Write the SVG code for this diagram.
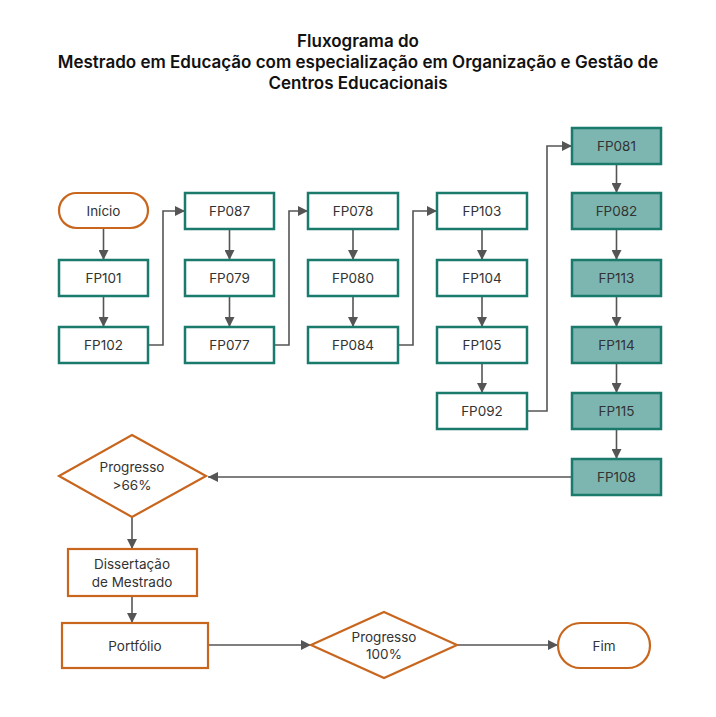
<svg xmlns="http://www.w3.org/2000/svg" width="716" height="717" viewBox="0 0 716 717">
<defs>
<marker id="ah" viewBox="0 0 10 10" refX="10" refY="5" markerWidth="10" markerHeight="10" markerUnits="userSpaceOnUse" orient="auto">
<path d="M0,0 L10,5 L0,10 z" fill="#555"/>
</marker>
</defs>
<style>
.t{font-family:Inter,"Noto Sans","Liberation Sans",sans-serif;font-size:13.5px;fill:#333;text-anchor:middle;dominant-baseline:central}
.title{font-family:Inter,"Noto Sans","Liberation Sans",sans-serif;font-size:17px;font-weight:600;fill:#111;text-anchor:middle}
.b{fill:#fff;stroke:#1a7a6c;stroke-width:2.5}
.f{fill:#7db6b1;stroke:#1a7a6c;stroke-width:2.5}
.o{fill:#fff;stroke:#c8661e;stroke-width:2.2}
.c{fill:none;stroke:#555;stroke-width:1.6;marker-end:url(#ah)}
</style>
<rect width="716" height="717" fill="#fff"/>
<g id="title">
<text class="title" x="358" y="47">Fluxograma do</text>
<text class="title" x="358" y="68">Mestrado em Educação com especialização em Organização e Gestão de</text>
<text class="title" x="358" y="89">Centros Educacionais</text>
</g>
<g id="connectors">
<path class="c" d="M103.5,228 V260"/>
<path class="c" d="M103.5,296 V327"/>
<path class="c" d="M148,345 H163 V211 H185"/>
<path class="c" d="M229.5,229 V260"/>
<path class="c" d="M229.5,296 V327"/>
<path class="c" d="M274,345 H289 V211 H308"/>
<path class="c" d="M353,229 V260"/>
<path class="c" d="M353,296 V327"/>
<path class="c" d="M398,345 H413 V211 H437"/>
<path class="c" d="M482,229 V260"/>
<path class="c" d="M482,296 V327"/>
<path class="c" d="M482,363 V393"/>
<path class="c" d="M527,411 H547 V146 H572"/>
<path class="c" d="M616.5,164 V193"/>
<path class="c" d="M616.5,229 V260"/>
<path class="c" d="M616.5,296 V327"/>
<path class="c" d="M616.5,363 V393"/>
<path class="c" d="M616.5,429 V459"/>
<path class="c" d="M572,477 H208"/>
<path class="c" d="M132,517 V549"/>
<path class="c" d="M132,596 V623"/>
<path class="c" d="M208,645 H311"/>
<path class="c" d="M457,645 H558"/>
</g>
<g id="inicio"><rect class="o" x="59" y="193" width="89" height="35" rx="17.5"/><text class="t" x="103.5" y="210.5">Início</text></g>
<g id="fp101"><rect class="b" x="59" y="260" width="89" height="36"/><text class="t" x="103.5" y="278">FP101</text></g>
<g id="fp102"><rect class="b" x="59" y="327" width="89" height="36"/><text class="t" x="103.5" y="345">FP102</text></g>
<g id="fp087"><rect class="b" x="185" y="193" width="89" height="36"/><text class="t" x="229.5" y="211">FP087</text></g>
<g id="fp079"><rect class="b" x="185" y="260" width="89" height="36"/><text class="t" x="229.5" y="278">FP079</text></g>
<g id="fp077"><rect class="b" x="185" y="327" width="89" height="36"/><text class="t" x="229.5" y="345">FP077</text></g>
<g id="fp078"><rect class="b" x="308" y="193" width="90" height="36"/><text class="t" x="353" y="211">FP078</text></g>
<g id="fp080"><rect class="b" x="308" y="260" width="90" height="36"/><text class="t" x="353" y="278">FP080</text></g>
<g id="fp084"><rect class="b" x="308" y="327" width="90" height="36"/><text class="t" x="353" y="345">FP084</text></g>
<g id="fp103"><rect class="b" x="437" y="193" width="90" height="36"/><text class="t" x="482" y="211">FP103</text></g>
<g id="fp104"><rect class="b" x="437" y="260" width="90" height="36"/><text class="t" x="482" y="278">FP104</text></g>
<g id="fp105"><rect class="b" x="437" y="327" width="90" height="36"/><text class="t" x="482" y="345">FP105</text></g>
<g id="fp092"><rect class="b" x="437" y="393" width="90" height="36"/><text class="t" x="482" y="411">FP092</text></g>
<g id="fp081"><rect class="f" x="572" y="128" width="89" height="36"/><text class="t" x="616.5" y="146">FP081</text></g>
<g id="fp082"><rect class="f" x="572" y="193" width="89" height="36"/><text class="t" x="616.5" y="211">FP082</text></g>
<g id="fp113"><rect class="f" x="572" y="260" width="89" height="36"/><text class="t" x="616.5" y="278">FP113</text></g>
<g id="fp114"><rect class="f" x="572" y="327" width="89" height="36"/><text class="t" x="616.5" y="345">FP114</text></g>
<g id="fp115"><rect class="f" x="572" y="393" width="89" height="36"/><text class="t" x="616.5" y="411">FP115</text></g>
<g id="fp108"><rect class="f" x="572" y="459" width="89" height="36"/><text class="t" x="616.5" y="477">FP108</text></g>
<g id="progresso66"><path class="o" d="M132,435 L206,476 L132,517 L59,476 Z"/><text class="t" x="132" y="467">Progresso</text><text class="t" x="132" y="485">&gt;66%</text></g>
<g id="dissertacao"><rect class="o" x="68" y="549" width="129" height="47"/><text class="t" x="132" y="563.5">Dissertação</text><text class="t" x="132" y="581.5">de Mestrado</text></g>
<g id="portfolio"><rect class="o" x="62" y="623" width="146" height="45"/><text class="t" x="135" y="645.5">Portfólio</text></g>
<g id="progresso100"><path class="o" d="M384,612 L457,645 L384,678 L311,645 Z"/><text class="t" x="384" y="637">Progresso</text><text class="t" x="384" y="654">100%</text></g>
<g id="fim"><rect class="o" x="558" y="623" width="92" height="45" rx="22.5"/><text class="t" x="604" y="645.5">Fim</text></g>
</svg>
